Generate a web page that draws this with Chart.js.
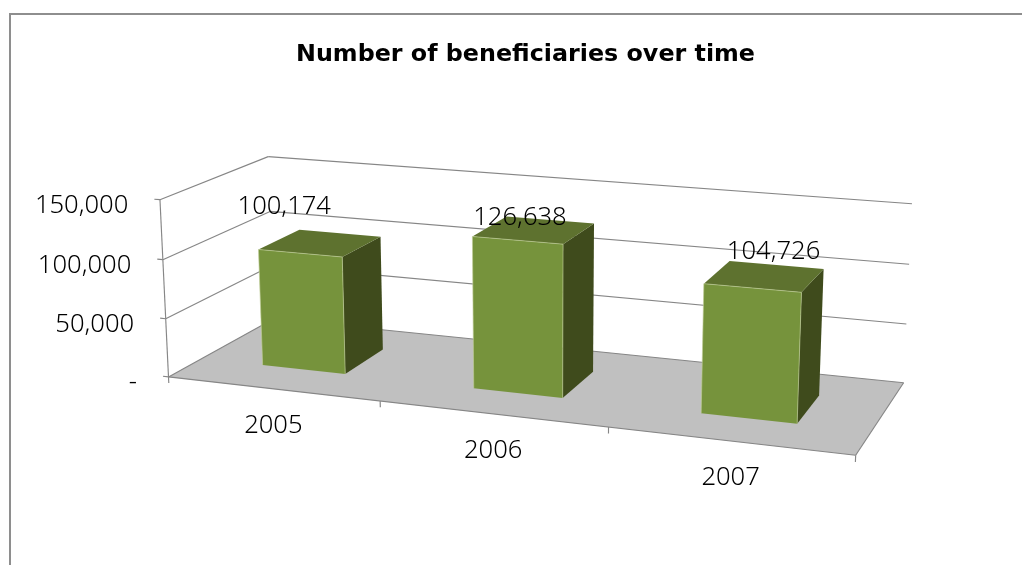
<!DOCTYPE html>
<html><head><meta charset="utf-8">
<style>html,body{margin:0;padding:0;background:#fff;overflow:hidden}canvas{display:block}</style>
<script src="https://cdn.jsdelivr.net/npm/chart.js@4"></script>
</head><body><canvas id="c" width="1022" height="565"></canvas>
<script>
const chartTitle = 'Number of beneficiaries over time';
const years = ['2005', '2006', '2007'];
const beneficiaries = [100174, 126638, 104726];
const valueTicks = [0, 50000, 100000, 150000];
const valueTickLabels = ['-', '50,000', '100,000', '150,000'];
const valueMax = 150000;

// Frame of the 3D box: [X, Y, Z (box units 0..1)] -> where it lands on the page.
const boxCalibration = [
  [0, 0, 0, 168.3, 376], [1, 0, 0, 855.7, 456], [0, 0, 1, 274, 320], [1, 0, 1, 903, 381.7],
  [0, 1, 0, 160.3, 200], [0, 1, 1, 268, 156], [1, 1, 1, 911.7, 204],
  [0, 1/3, 0, 165.7, 318.3], [0, 2/3, 0, 162.7, 260],
  [1, 1/3, 1, 907.3, 324], [1, 2/3, 1, 909, 264.3]
];
const barDepth = [0.3, 0.7];
const labelNudge = [[-36, -36], [-14, -12], [9, -25]];
const colors = { front: '#76933C', top: '#5E722F', side: '#3F4B1C', edge: 'rgba(190,205,150,.65)',
                 floor: '#C0C0C0', line: '#868686', frame: '#8E8E8E', text: '#000000' };
const tickFont = '300 25.6px "Noto Sans"';

function calibrate(pts) {
  const n = 11, A = Array.from({length: n}, () => new Array(n + 1).fill(0));
  const add = (r, b) => { for (let i = 0; i < n; i++) { for (let j = 0; j < n; j++) A[i][j] += r[i] * r[j]; A[i][n] += r[i] * b; } };
  for (const [X, Y, Z, px, py] of pts) {
    const u = px / 1000, v = py / 1000;
    add([X, Y, Z, 1, 0, 0, 0, 0, -u * X, -u * Y, -u * Z], u);
    add([0, 0, 0, 0, X, Y, Z, 1, -v * X, -v * Y, -v * Z], v);
  }
  for (let i = 0; i < n; i++) {
    let m = i; for (let k = i + 1; k < n; k++) if (Math.abs(A[k][i]) > Math.abs(A[m][i])) m = k;
    [A[i], A[m]] = [A[m], A[i]];
    for (let k = 0; k < n; k++) if (k !== i) { const f = A[k][i] / A[i][i]; for (let j = i; j <= n; j++) A[k][j] -= f * A[i][j]; }
  }
  return A.map((r, i) => r[n] / r[i]);
}
const P = calibrate(boxCalibration);
function project(X, Y, Z) {
  const w = P[8] * X + P[9] * Y + P[10] * Z + 1;
  return [1000 * (P[0] * X + P[1] * Y + P[2] * Z + P[3]) / w, 1000 * (P[4] * X + P[5] * Y + P[6] * Z + P[7]) / w];
}
function poly(ctx, pts, fill, stroke) {
  ctx.beginPath(); pts.forEach((p, i) => i ? ctx.lineTo(p[0], p[1]) : ctx.moveTo(p[0], p[1])); ctx.closePath();
  if (fill) { ctx.fillStyle = fill; ctx.fill(); }
  if (stroke) { ctx.strokeStyle = stroke; ctx.lineWidth = 1; ctx.stroke(); }
}
function line(ctx, a, b, color, w) {
  ctx.beginPath(); ctx.moveTo(a[0], a[1]); ctx.lineTo(b[0], b[1]); ctx.strokeStyle = color; ctx.lineWidth = w || 1.15; ctx.stroke();
}
const toX = (c, px) => (px - c.chartArea.left) / (c.chartArea.right - c.chartArea.left);
const toY = (c, v) => { const s = c.scales.y; return (s.bottom - s.getPixelForValue(v)) / (s.bottom - s.top); };

const box3d = {
  id: 'box3d',
  beforeDatasetsDraw(c) {
    const ctx = c.ctx; ctx.save();
    line(ctx, [10, 14], [1022, 14], colors.frame, 2);
    line(ctx, [10, 13], [10, 565], colors.frame, 2);
    poly(ctx, [project(0,0,0), project(1,0,0), project(1,0,1), project(0,0,1)], colors.floor);
    line(ctx, project(0,0,0), project(1,0,0), colors.line);
    line(ctx, project(1,0,0), project(1,0,1), colors.line);
    line(ctx, project(1,0,1), project(0,0,1), colors.line);
    line(ctx, project(0,0,1), project(0,0,0), colors.line);
    line(ctx, project(0,0,0), project(0,1,0), colors.line);
    valueTicks.forEach((v, i) => {
      const Y = toY(c, v);
      if (i) { line(ctx, project(0,Y,0), project(0,Y,1), colors.line); line(ctx, project(0,Y,1), project(1,Y,1), colors.line); }
      const t = project(-0.009, Y, 0);
      line(ctx, project(0,Y,0), t, colors.line);
      ctx.font = tickFont; ctx.fillStyle = colors.text; ctx.textAlign = 'right'; ctx.textBaseline = 'middle';
      ctx.fillText(valueTickLabels[i], t[0] - 26, t[1] + 6.5);
    });
    const n = years.length;
    for (let i = 0; i <= n; i++) line(ctx, project(i / n, 0, 0), project(i / n, -0.035, 0), colors.line);
    const xs = c.scales.x;
    years.forEach((y, i) => {
      const p = project(toX(c, xs.getPixelForValue(i)), 0, 0);
      ctx.font = tickFont; ctx.fillStyle = colors.text; ctx.textAlign = 'center'; ctx.textBaseline = 'middle';
      ctx.fillText(y, p[0] + 1, p[1] + 37);
    });
    ctx.restore();
  },
  beforeDatasetDraw(c, args) {
    const ctx = c.ctx, meta = args.meta; ctx.save();
    const [z0, z1] = barDepth;
    meta.data.forEach((el, i) => {
      const b = el.getProps(['x', 'width'], true);
      const x0 = toX(c, b.x - b.width / 2), x1 = toX(c, b.x + b.width / 2), h = toY(c, beneficiaries[i]);
      poly(ctx, [project(x1,0,z0), project(x1,0,z1), project(x1,h,z1), project(x1,h,z0)], colors.side);
      poly(ctx, [project(x0,h,z0), project(x1,h,z0), project(x1,h,z1), project(x0,h,z1)], colors.top);
      poly(ctx, [project(x0,0,z0), project(x1,0,z0), project(x1,h,z0), project(x0,h,z0)], colors.front);
      line(ctx, project(x0,h,z0), project(x1,h,z0), colors.edge, 1);
      line(ctx, project(x0,0,z0), project(x0,h,z0), colors.edge, 1);
      line(ctx, project(x1,0,z0), project(x1,h,z0), colors.edge, 1);
    });
    ctx.restore();
    return false;
  },
  afterDatasetsDraw(c) {
    const ctx = c.ctx, meta = c.getDatasetMeta(0); ctx.save();
    ctx.font = tickFont; ctx.fillStyle = colors.text; ctx.textAlign = 'center'; ctx.textBaseline = 'middle';
    meta.data.forEach((el, i) => {
      const p = project(toX(c, el.getProps(['x'], true).x), toY(c, beneficiaries[i]), 0.5);
      ctx.fillText(beneficiaries[i].toLocaleString('en-US'), p[0] + labelNudge[i][0], p[1] + labelNudge[i][1]);
    });
    ctx.restore();
  }
};

new Chart(document.getElementById('c'), {
  type: 'bar',
  data: { labels: years, datasets: [{ label: 'Beneficiaries', data: beneficiaries, backgroundColor: colors.front,
          barPercentage: 1, categoryPercentage: 0.4 }] },
  plugins: [box3d],
  options: {
    responsive: false, animation: false, events: [],
    layout: { padding: { left: 29 } },
    plugins: {
      legend: { display: false }, tooltip: { enabled: false },
      title: { display: true, text: chartTitle, color: '#000', padding: { top: 41, bottom: 20 },
               font: { family: '"DejaVu Sans"', size: 23.8, weight: 'bold' } }
    },
    scales: {
      x: { display: false },
      y: { display: false, min: 0, max: valueMax }
    }
  }
});
</script>
</body></html>
